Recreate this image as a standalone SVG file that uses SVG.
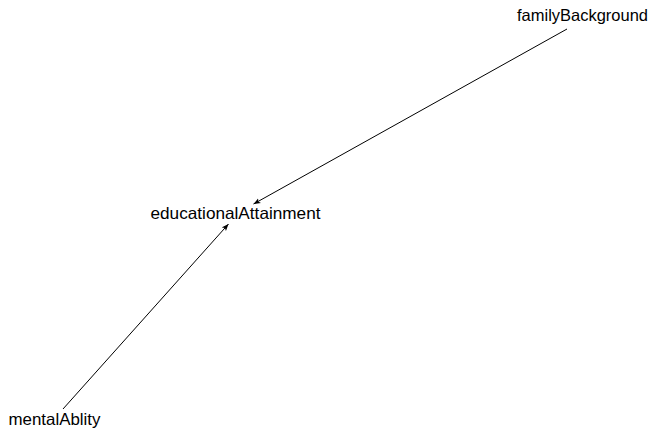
<svg xmlns="http://www.w3.org/2000/svg" width="655" height="429" viewBox="0 0 655 429">
  <style>
    .label { font-family: "Liberation Sans", Arial, sans-serif; font-size: 16.5px; fill: #000; }
    .edge { stroke: #000; stroke-width: 1; fill: none; }
  </style>
  <defs>
    <marker id="arrow" viewBox="0 0 10 10" refX="10" refY="5" markerWidth="7" markerHeight="7" markerUnits="userSpaceOnUse" orient="auto">
      <path d="M0,1 L10,5 L0,9 L2.5,5 Z" fill="#000"/>
    </marker>
  </defs>
  <rect width="655" height="429" fill="#fff"/>

  <g id="edges">
    <line class="edge" x1="567" y1="29" x2="253.5" y2="204" marker-end="url(#arrow)"/>
    <line class="edge" x1="63" y1="409" x2="228.5" y2="224" marker-end="url(#arrow)"/>
  </g>

  <g id="familyBackground">
    <text class="label" x="517" y="21" textLength="131" lengthAdjust="spacingAndGlyphs">familyBackground</text>
  </g>
  <g id="educationalAttainment">
    <text class="label" x="150.5" y="219" textLength="170" lengthAdjust="spacingAndGlyphs">educationalAttainment</text>
  </g>
  <g id="mentalAblity">
    <text class="label" x="8.5" y="425" textLength="92" lengthAdjust="spacingAndGlyphs">mentalAblity</text>
  </g>
</svg>
